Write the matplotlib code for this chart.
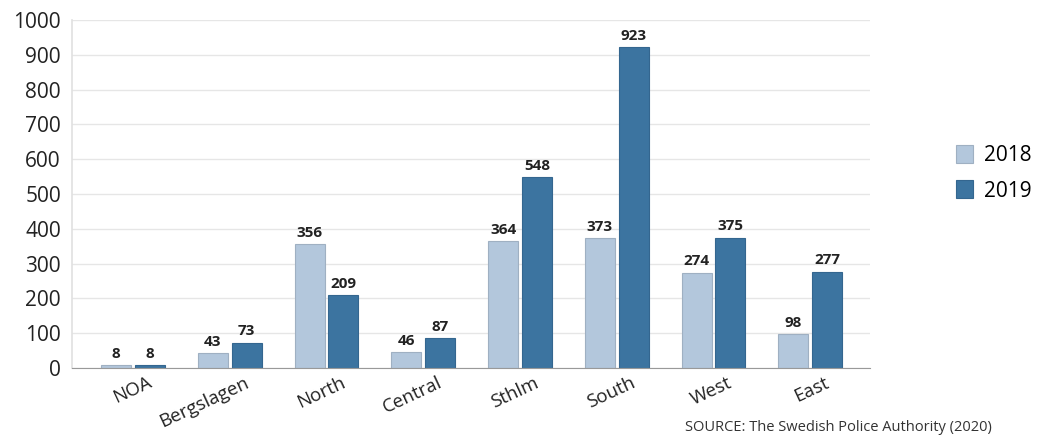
import matplotlib.pyplot as plt
import matplotlib.transforms as mtransforms
import numpy as np

plt.rcParams['font.family'] = ['Open Sans', 'DejaVu Sans']

regions = ['NOA', 'Bergslagen', 'North', 'Central', 'Sthlm', 'South', 'West', 'East']
y2018 = [8, 43, 356, 46, 364, 373, 274, 98]
y2019 = [8, 73, 209, 87, 548, 923, 375, 277]

light = '#b3c7dc'
dark = '#3c74a0'

fig = plt.figure(figsize=(10.38, 4.36), dpi=100)
ax = fig.add_axes([0.0694, 0.156, 0.769, 0.798])

x = np.arange(len(regions))
w = 0.31
b1 = ax.bar(x - 0.175, y2018, w, color=light, edgecolor='#9fb0c2', linewidth=0.8, label='2018')
b2 = ax.bar(x + 0.175, y2019, w, color=dark, edgecolor='#34668f', linewidth=0.8, label='2019')

for bars in (b1, b2):
    for b in bars:
        ax.text(b.get_x() + b.get_width() / 2, b.get_height() + 12, str(int(b.get_height())),
                ha='center', va='bottom', fontsize=11, fontweight='bold', color='#222222')

ax.set_xlim(-0.63, 7.62)
ax.set_ylim(0, 1000)
ax.set_yticks(range(0, 1001, 100))
ax.yaxis.grid(True, color='#e6e6e6', linewidth=1)
ax.set_axisbelow(True)
for s in ['top', 'right']:
    ax.spines[s].set_visible(False)
ax.spines['left'].set_color('#e0e0e0')
ax.spines['left'].set_linewidth(1.2)
ax.spines['bottom'].set_color('#999999')
ax.tick_params(axis='y', length=0, labelsize=15, colors='#222222', pad=8)
ax.tick_params(axis='x', length=0, labelsize=13.5, colors='#222222', pad=4)
ax.set_xticks(x)
ax.set_xticklabels(regions, rotation=25, ha='right', rotation_mode='anchor')
shift = mtransforms.ScaledTranslation(14 / 100, 0, fig.dpi_scale_trans)
for lbl in ax.get_xticklabels():
    lbl.set_transform(lbl.get_transform() + shift)

ax.legend(loc='center left', bbox_to_anchor=(1.107, 0.56), frameon=False, fontsize=15,
          handlelength=0.85, handleheight=0.95, labelspacing=0.7, handletextpad=0.5,
          borderpad=0, borderaxespad=0)

fig.text(0.66, 0.003, 'SOURCE: The Swedish Police Authority (2020)', fontsize=10.5,
         color='#333333', va='bottom')

fig.savefig('out.png', dpi=100)
